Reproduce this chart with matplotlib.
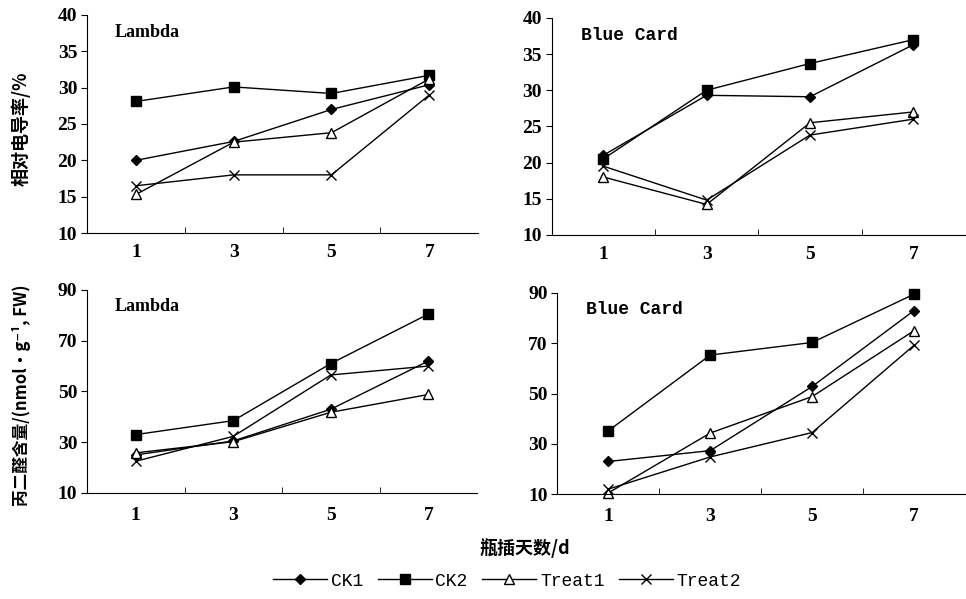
import matplotlib.pyplot as plt
from matplotlib.ticker import FixedLocator

days = ['1', '3', '5', '7']
series = ['CK1', 'CK2', 'Treat1', 'Treat2']

# relative conductivity (%)
lambda_cond = {
    'CK1': [20.0, 22.6, 27.0, 30.4],
    'CK2': [28.1, 30.1, 29.2, 31.7],
    'Treat1': [15.3, 22.5, 23.8, 31.2],
    'Treat2': [16.5, 18.0, 18.0, 29.0],
}
blue_cond = {
    'CK1': [21.0, 29.3, 29.1, 36.3],
    'CK2': [20.5, 30.0, 33.7, 37.0],
    'Treat1': [18.0, 14.2, 25.5, 27.0],
    'Treat2': [19.5, 14.8, 23.8, 26.0],
}
# MDA content
lambda_mda = {
    'CK1': [25.0, 30.5, 43.0, 62.0],
    'CK2': [33.0, 38.5, 61.0, 80.5],
    'Treat1': [25.8, 30.2, 41.8, 48.8],
    'Treat2': [22.5, 32.3, 56.5, 60.0],
}
blue_mda = {
    'CK1': [23.0, 27.3, 52.8, 83.0],
    'CK2': [35.2, 65.3, 70.3, 89.5],
    'Treat1': [10.5, 34.3, 48.8, 75.0],
    'Treat2': [12.0, 24.8, 34.5, 69.2],
}

styles = {
    'CK1': dict(marker='D', markersize=5, markerfacecolor='black'),
    'CK2': dict(marker='s', markersize=7.5, markerfacecolor='black'),
    'Treat1': dict(marker='^', markersize=7.5, markerfacecolor='white'),
    'Treat2': dict(marker='x', markersize=7.5, markeredgewidth=1.0),
}

serif = 'Liberation Serif'
cjk = ['Noto Sans CJK SC', 'DejaVu Sans']

fig = plt.figure(figsize=(9.66, 5.99), dpi=100)
panels = [
    ([0.090, 0.611, 0.405, 0.364], lambda_cond, 'Lambda', (10, 40, 5), serif, 8),
    ([0.571, 0.608, 0.428, 0.362], blue_cond, 'Blue Card', (10, 40, 5), 'Liberation Mono', 8),
    ([0.090, 0.177, 0.404, 0.339], lambda_mda, 'Lambda', (10, 90, 20), serif, 10),
    ([0.577, 0.175, 0.422, 0.336], blue_mda, 'Blue Card', (10, 90, 20), 'Liberation Mono', 10),
]

handles = []
for rect, data, title, (lo, hi, step), tfont, xpad in panels:
    ax = fig.add_axes(rect)
    x = list(range(len(days)))
    handles = []
    for name in series:
        h, = ax.plot(x, data[name], color='black', lw=1.0, markeredgecolor='black',
                     label=name, clip_on=False, **styles[name])
        handles.append(h)
    ax.set_xlim(-0.5, 3.5)
    ax.set_ylim(lo, hi)
    ax.set_yticks(list(range(lo, hi + 1, step)))
    ax.set_xticks(x)
    ax.set_xticklabels(days)
    ax.xaxis.set_minor_locator(FixedLocator([0.5, 1.5, 2.5]))
    ax.tick_params(axis='x', which='major', length=0, pad=xpad)
    ax.tick_params(axis='x', which='minor', length=4, direction='in')
    ax.tick_params(axis='y', length=4, direction='out', pad=3)
    for lab in ax.get_xticklabels() + ax.get_yticklabels():
        lab.set_fontfamily(serif)
        lab.set_fontsize(14)
        lab.set_fontweight('bold')
    ax.spines['top'].set_visible(False)
    ax.spines['right'].set_visible(False)
    ax.text(0.07, 0.92, title, transform=ax.transAxes, fontsize=13,
            fontweight='bold', fontfamily=tfont, va='center')

fig.text(0.022, 0.785, '相对电导率/%', rotation=90, ha='center', va='center',
         fontsize=13, family=cjk, fontweight='bold')
fig.text(0.022, 0.34, '丙二醛含量/(nmol·g⁻¹, FW)', rotation=90, ha='center',
         va='center', fontsize=12, family=cjk, fontweight='bold')
fig.text(0.543, 0.085, '瓶插天数/d', ha='center', va='center', fontsize=13,
         family=cjk, fontweight='bold')

fig.legend(handles=handles, labels=series, loc='center', bbox_to_anchor=(0.525, 0.03),
           ncol=4, frameon=False, handlelength=3, columnspacing=0.8, handletextpad=0.2,
           prop={'family': 'Liberation Mono', 'size': 13})

fig.savefig('out.png', dpi=100)
